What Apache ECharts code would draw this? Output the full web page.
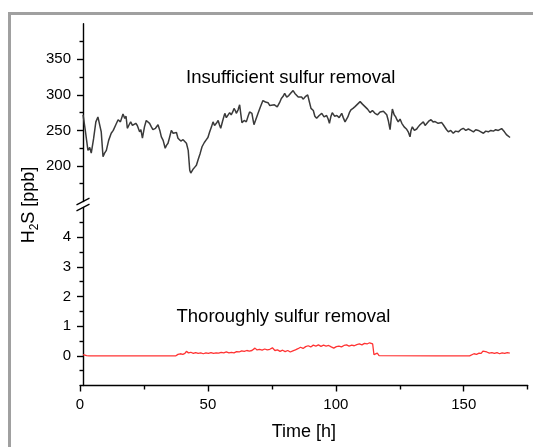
<!DOCTYPE html>
<html><head><meta charset="utf-8">
<script src="https://cdn.jsdelivr.net/npm/echarts@6/dist/echarts.min.js"></script>
<style>html,body{margin:0;padding:0;background:#fff}#c{width:533px;height:447px}</style>
</head><body><div id="c"></div>
<script>
// ---- data ----
const topSeries = [[1.2,272],[2.0,252],[3.1,222],[3.8,226],[4.4,218],[5.3,238],[6.2,262],[7.0,269],[7.7,270],[8.3,248],[9.0,213],[9.6,218],[10.3,222],[11.2,236],[12.2,246],[13.0,250],[14.0,258],[14.9,265],[15.8,262],[16.8,273],[17.5,267],[18.0,270],[18.5,253],[19.2,258],[19.8,262],[20.5,257],[21.1,255],[21.8,260],[22.4,257],[23.3,248],[23.8,251],[24.4,239],[25.2,255],[25.9,264],[26.6,262],[27.2,260],[27.9,255],[28.5,251],[29.5,253],[30.5,258],[31.2,250],[31.8,241],[32.5,236],[33.3,225],[33.8,229],[34.4,232],[35.0,240],[35.7,250],[36.4,246],[37.0,244],[37.7,247],[38.3,239],[38.9,241],[39.4,235],[40.3,237],[41.0,235],[41.6,232],[42.3,222],[42.9,194],[43.3,190],[44.1,195],[44.8,198],[45.5,201],[46.1,208],[47.0,218],[47.7,227],[48.6,233],[49.4,237],[50.0,240],[50.7,248],[51.4,255],[52.0,262],[52.6,257],[53.3,260],[54.0,264],[54.5,258],[55.0,253],[55.8,264],[56.6,274],[57.2,268],[57.9,270],[58.5,275],[59.1,272],[59.7,276],[60.2,281],[60.7,278],[61.1,274],[61.8,279],[62.4,286],[62.9,272],[63.3,261],[64.2,264],[65.0,262],[65.7,270],[66.3,276],[67.2,274],[67.6,266],[68.0,258],[68.8,266],[69.6,274],[70.5,283],[71.5,292],[72.5,290],[73.5,289],[74.2,285],[74.8,283.5],[76.0,286],[77.1,283],[78.0,289],[78.7,295],[79.4,298],[80.0,302],[80.8,297],[81.6,299],[82.5,303],[83.3,306],[84.0,302],[84.6,300],[85.3,297],[85.9,295],[86.6,297],[87.3,294],[88.2,298],[89.0,300],[89.6,291],[90.3,281],[91.2,278],[91.8,270],[92.5,267],[93.5,271],[94.5,274],[95.4,269],[96.4,271],[97.0,266],[97.5,260],[98.1,270],[98.6,275],[99.5,270],[100.4,271],[101.3,268],[102.3,274],[102.9,268],[103.6,262],[104.2,266],[104.7,269],[105.3,275],[105.9,279],[106.7,281],[107.5,283.5],[108.5,287],[109.5,290.5],[110.4,287],[111.4,283.5],[112.4,280],[113.4,275],[114.3,278],[115.3,274],[116.3,272],[117.3,276],[118.0,274],[118.6,277],[119.3,275],[119.9,272],[120.5,264],[121.2,251],[121.7,268],[122.1,280],[122.8,272],[123.4,269],[123.9,265],[124.4,262],[125.1,266],[125.8,260],[126.7,255],[127.7,251.6],[128.3,248],[129.0,241],[129.4,250],[129.9,255],[130.7,250],[131.6,252],[132.2,255],[132.9,258],[133.5,256],[134.2,262],[134.9,257],[135.5,259],[136.3,263],[137.2,265],[138.0,262],[138.8,262.5],[140.0,260],[141.4,261],[142.0,258],[142.7,256],[143.3,251],[144.0,248],[144.9,250],[145.9,246],[146.8,249],[147.9,248],[148.8,251],[149.8,253],[150.8,250],[151.8,252],[152.8,250],[153.8,248],[154.7,251],[155.7,250],[156.7,248],[157.7,246],[158.6,249],[159.6,248],[160.6,250],[161.6,249],[162.5,251],[163.5,250],[164.2,251],[164.8,252.6],[165.3,250],[165.9,248],[166.4,246],[166.8,243.6],[167.5,242],[168.1,240]];
const bottomSeries = [[1.2,0.04],[1.8,0.1],[2.6,0.01],[3.5,0],[24.3,0],[24.7,0.03],[25.2,0],[37.5,0],[38.3,0.05],[39.2,0.07],[40.2,0.05],[41,0.08],[41.6,0.15],[42.4,0.1],[43.3,0.12],[44.3,0.08],[45.2,0.11],[46.2,0.08],[47.2,0.1],[48.2,0.07],[49.2,0.1],[50.2,0.08],[51.2,0.11],[52.2,0.08],[53.2,0.1],[54.2,0.09],[55.2,0.12],[56.2,0.1],[57.2,0.13],[58.2,0.1],[59.2,0.12],[60.2,0.1],[61.2,0.14],[62.2,0.13],[63.2,0.17],[64.2,0.15],[65.2,0.18],[66.2,0.16],[67.2,0.18],[68.4,0.26],[69.2,0.2],[70.2,0.22],[71.2,0.19],[72.2,0.23],[73.2,0.2],[74.2,0.22],[75.2,0.27],[76.2,0.18],[77.2,0.2],[78.2,0.15],[79.2,0.19],[80.2,0.14],[81.2,0.18],[82.2,0.13],[83.2,0.17],[84.2,0.2],[85.2,0.24],[86.2,0.29],[87.2,0.25],[88.2,0.31],[89.2,0.34],[90.2,0.3],[91.2,0.36],[92.2,0.33],[93.2,0.37],[94.2,0.32],[95.2,0.36],[96.2,0.33],[97.2,0.35],[98.2,0.3],[99.2,0.26],[100.2,0.31],[101.2,0.33],[102.2,0.3],[103.2,0.35],[104.2,0.37],[105.2,0.33],[106.2,0.36],[107.2,0.34],[108.2,0.38],[109.2,0.4],[110.2,0.37],[111.2,0.42],[112.2,0.4],[113.2,0.44],[113.9,0.47],[114.4,0.4],[114.9,0.04],[115.5,0],[116.2,0.09],[116.9,0.01],[117.6,0],[139,0],[139.4,0.02],[139.8,0],[152.3,0],[153,0.05],[154,0.07],[155,0.05],[156,0.09],[156.8,0.08],[157.5,0.16],[158.2,0.11],[159,0.13],[160,0.09],[161,0.11],[162,0.08],[163,0.11],[164,0.07],[165,0.1],[166,0.08],[167,0.11],[168,0.09]];
const xTicks = [0, 50, 100, 150];
const xMinorTicks = [25, 75, 125, 175];
const topYTicks = [200, 250, 300, 350];
const bottomYTicks = [0, 1, 2, 3, 4];
const topLabel = 'Insufficient sulfur removal';
const bottomLabel = 'Thoroughly sulfur removal';
const xName = 'Time [h]';

// ---- layout ----
const FONT = '"Liberation Sans", Arial, sans-serif';
const L = 80, R = 533 - 527.7;
const TOP_T = 23.8, TOP_H = 177.7;
const BOT_T = 207.5, BOT_H = 178;
const AXX = 83;
const lineSt = { color: '#000', width: 1.4 };

function yAxisDef(grid, min, max, interval, ticks) {
  return {
    type: 'value', gridIndex: grid, min: min, max: max, interval: interval, offset: -(AXX - L),
    axisLine: { show: true, onZero: false, lineStyle: lineSt },
    axisTick: { show: true, customValues: ticks, length: 6, lineStyle: lineSt },
    minorTick: { show: true, splitNumber: 2, length: 3.5, lineStyle: lineSt },
    axisLabel: { customValues: ticks, fontFamily: FONT, fontSize: 15, color: '#000', margin: 12 },
    splitLine: { show: false }
  };
}

const chart = echarts.init(document.getElementById('c'), null, { renderer: 'canvas' });
chart.setOption({
  animation: false,
  backgroundColor: '#fff',
  grid: [
    { left: L, right: R, top: TOP_T, height: TOP_H },
    { left: L, right: R, top: BOT_T, height: BOT_H }
  ],
  xAxis: [
    { type: 'value', gridIndex: 0, min: 0, max: 175, show: false },
    { type: 'value', gridIndex: 1, min: 0, max: 175, position: 'bottom',
      axisLine: { show: true, onZero: false, lineStyle: lineSt },
      axisTick: { show: true, customValues: xTicks, length: 6, lineStyle: lineSt },
      axisLabel: { customValues: xTicks, fontFamily: FONT, fontSize: 15, color: '#000', margin: 12 },
      splitLine: { show: false },
      name: xName, nameLocation: 'middle', nameGap: 38,
      nameTextStyle: { fontFamily: FONT, fontSize: 18, color: '#000' } },
    { type: 'value', gridIndex: 1, min: 0, max: 175, position: 'bottom',
      axisLine: { show: false, onZero: false },
      axisTick: { show: true, customValues: xMinorTicks, length: 4, lineStyle: lineSt },
      axisLabel: { show: false }, splitLine: { show: false } }
  ],
  yAxis: [
    yAxisDef(0, 150, 400, 50, topYTicks),
    yAxisDef(1, -1, 5, 1, bottomYTicks)
  ],
  series: [
    { type: 'line', xAxisIndex: 0, yAxisIndex: 0, data: topSeries, showSymbol: false, symbol: 'none',
      lineStyle: { color: '#3a3a3a', width: 1.5 } },
    { type: 'line', xAxisIndex: 1, yAxisIndex: 1, data: bottomSeries, showSymbol: false, symbol: 'none',
      lineStyle: { color: '#ff3333', width: 1.3 } }
  ],
  graphic: [
    { type: 'rect', shape: { x: 8, y: 12, width: 525, height: 3 }, style: { fill: '#a0a0a0' }, silent: true },
    { type: 'rect', shape: { x: 8, y: 12, width: 3, height: 435 }, style: { fill: '#a0a0a0' }, silent: true },
    { type: 'line', shape: { x1: AXX - 6.5, y1: TOP_T + TOP_H + 3.3, x2: AXX + 6.5, y2: TOP_T + TOP_H - 3.3 },
      style: { stroke: '#000', lineWidth: 1.3 }, silent: true },
    { type: 'line', shape: { x1: AXX - 6.5, y1: BOT_T + 3.3, x2: AXX + 6.5, y2: BOT_T - 3.3 },
      style: { stroke: '#000', lineWidth: 1.3 }, silent: true },
    { type: 'text', left: 186, top: 68, silent: true,
      style: { text: topLabel, font: '18.5px ' + FONT, fill: '#000' } },
    { type: 'text', left: 176.5, top: 307, silent: true,
      style: { text: bottomLabel, font: '18.5px ' + FONT, fill: '#000' } },
    { type: 'text', x: 29, y: 205, rotation: Math.PI / 2, silent: true,
      style: { text: '{a|H}{b|2}{a|S [ppb]}', align: 'center', verticalAlign: 'middle', fill: '#000',
        rich: {
          a: { fontFamily: FONT, fontSize: 18, lineHeight: 24, verticalAlign: 'middle' },
          b: { fontFamily: FONT, fontSize: 12, lineHeight: 12, verticalAlign: 'bottom' }
        } } }
  ]
});
</script>
</body></html>
